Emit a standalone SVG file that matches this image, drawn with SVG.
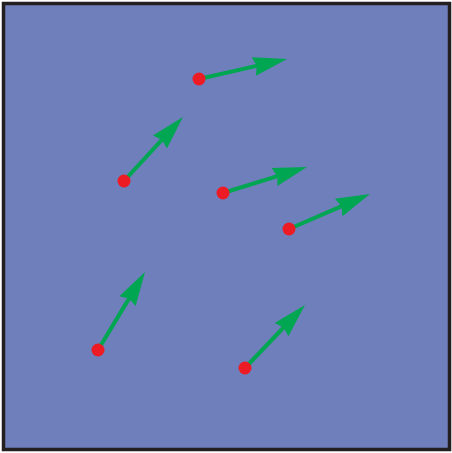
<svg xmlns="http://www.w3.org/2000/svg" width="452" height="453" viewBox="0 0 452 453">
<style>
.arr{stroke:#00a651;stroke-width:4;fill:none;marker-end:url(#ah)}
.dot{fill:#ed1c24}
</style>
<defs>
<marker id="ah" markerUnits="userSpaceOnUse" markerWidth="36" markerHeight="20" refX="14" refY="9.5" orient="auto" overflow="visible">
<path d="M0,0 L34,9.5 L0,19 L3,9.5 Z" fill="#00a651"/>
</marker>
</defs>
<rect x="3.5" y="3.5" width="446" height="446" fill="#6e7fbb" stroke="#231f20" stroke-width="3.5"/>
<g id="connectors">
<line class="arr" x1="199" y1="79" x2="267.5" y2="63.4"/>
<line class="arr" x1="124" y1="181" x2="169.4" y2="131.7"/>
<line class="arr" x1="223" y1="193" x2="287.9" y2="172.9"/>
<line class="arr" x1="289" y1="229" x2="351.6" y2="201.9"/>
<line class="arr" x1="98" y1="350" x2="134.7" y2="289.1"/>
<line class="arr" x1="245" y1="368" x2="291.2" y2="319.5"/>
</g>
<g id="p1"><circle class="dot" cx="199" cy="79" r="6.5"/></g>
<g id="p2"><circle class="dot" cx="124" cy="181" r="6.5"/></g>
<g id="p3"><circle class="dot" cx="223" cy="193" r="6.5"/></g>
<g id="p4"><circle class="dot" cx="289" cy="229" r="6.5"/></g>
<g id="p5"><circle class="dot" cx="98" cy="350" r="6.5"/></g>
<g id="p6"><circle class="dot" cx="245" cy="368" r="6.5"/></g>
</svg>
